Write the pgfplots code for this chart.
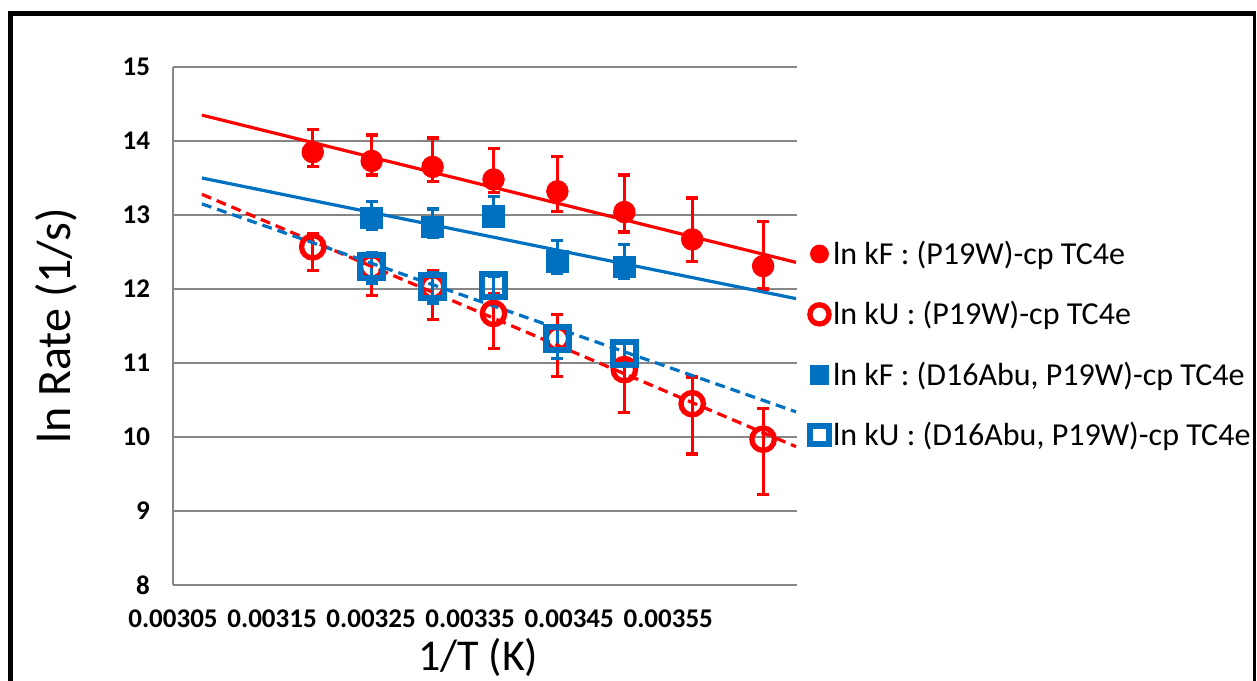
\documentclass[border=0pt]{standalone}
\usepackage{fontspec}
\setmainfont{Carlito}
\usepackage{pgfplots}
\usepackage{pgfplotstable}
\pgfplotsset{compat=1.18}
\definecolor{exred}{RGB}{255,0,0}
\definecolor{exblue}{RGB}{0,112,192}
\definecolor{gridgray}{RGB}{134,134,134}

\pgfplotstableread{
x y ep em
0.0031911 13.85 0.30 0.19
0.0032506 13.73 0.35 0.19
0.0033121 13.65 0.39 0.20
0.0033736 13.48 0.42 0.18
0.0034381 13.32 0.47 0.27
0.0035057 13.04 0.50 0.27
0.0035742 12.67 0.56 0.30
0.0036458 12.31 0.60 0.31
}\kFwt
\pgfplotstableread{
x y ep em
0.0031911 12.57 0.18 0.32
0.0032506 12.30 0.17 0.39
0.0033121 12.03 0.22 0.44
0.0033736 11.67 0.27 0.47
0.0034381 11.33 0.33 0.51
0.0035057 10.91 0.36 0.58
0.0035742 10.45 0.36 0.68
0.0036458 9.97 0.41 0.75
}\kUwt
\pgfplotstableread{
x y ep em
0.0032506 12.96 0.22 0.16
0.0033121 12.84 0.24 0.14
0.0033736 12.98 0.27 0.14
0.0034381 12.37 0.29 0.16
0.0035057 12.30 0.30 0.16
}\kFabu
\pgfplotstableread{
x y ep em
0.0032506 12.30 0.19 0.22
0.0033121 12.03 0.19 0.22
0.0033736 12.05 0.12 0.18
0.0034381 11.33 0.18 0.27
0.0035057 11.13 0.14 0.13
}\kUabu

\begin{document}
\begin{tikzpicture}
\useasboundingbox (0,0) rectangle (628.5pt,340pt);
\draw[line width=2.5pt] (5.25pt,-5pt) -- (5.25pt,333.25pt);
\draw[line width=2.5pt] (4pt,333.25pt) -- (627.75pt,333.25pt);
\draw[line width=1.5pt] (627pt,333.25pt) -- (627pt,-5pt);
\begin{axis}[
  at={(86.5pt,47.5pt)}, anchor=south west,
  scale only axis, width=312pt, height=259pt,
  xmin=0.00305, xmax=0.00368,
  ymin=8, ymax=15,
  xtick={0.00305,0.00315,0.00325,0.00335,0.00345,0.00355},
  xticklabels={0.00305,0.00315,0.00325,0.00335,0.00345,0.00355},
  ytick={8,9,10,11,12,13,14,15},
  scaled x ticks=false,
  /pgf/number format/assume math mode=true,
  ticklabel style={font=\fontsize{13.5pt}{16pt}\selectfont\bfseries},
  yticklabel style={xshift=-8pt},
  xticklabel style={yshift=-9pt},
  major tick length=0pt,
  axis x line*=bottom, axis y line*=left,
  axis line style={gridgray, line width=1pt},
  ymajorgrids, major grid style={gridgray, line width=1pt},
  xlabel={1/T (K)}, ylabel={ln Rate (1/s)},
  xlabel style={font=\fontsize{22pt}{26pt}\selectfont, at={(axis description cs:0.489,-0.139)}, anchor=center},
  ylabel style={font=\fontsize{24pt}{28pt}\selectfont, at={(axis description cs:-0.1875,0.5)}, anchor=center},
  legend style={at={(axis description cs:1.02,0.673)}, anchor=north west, draw=none, fill=none,
    font=\fontsize{16pt}{19pt}\selectfont, row sep=13pt, inner sep=0pt,
    /tikz/every even column/.append style={column sep=2pt}},
  legend cell align=left,
  clip=false,
]
\addplot[only marks, mark=*, mark size=5.4pt, color=exred,
  legend image post style={mark size=4.5pt},
  error bars/.cd, y dir=both, y explicit,
  error bar style={line width=1.6pt, exred},
  error mark options={rotate=90, mark size=3pt, line width=1.6pt, exred}]
  table[x=x, y=y, y error plus=ep, y error minus=em] {\kFwt};
\addlegendentry{ln kF : (P19W)-cp TC4e}
\addplot[only marks, mark=o, mark size=5.6pt, color=exred, mark options={line width=2.65pt},
  legend image post style={mark size=4.8pt, line width=2.4pt},
  error bars/.cd, y dir=both, y explicit,
  error bar style={line width=1.6pt, exred},
  error mark options={rotate=90, mark size=3pt, line width=1.6pt, exred}]
  table[x=x, y=y, y error plus=ep, y error minus=em] {\kUwt};
\addlegendentry{ln kU : (P19W)-cp TC4e}
\addplot[only marks, mark=square*, mark size=5.4pt, color=exblue,
  legend image post style={mark size=4.6pt},
  error bars/.cd, y dir=both, y explicit,
  error bar style={line width=1.6pt, exblue},
  error mark options={rotate=90, mark size=3pt, line width=1.6pt, exblue}]
  table[x=x, y=y, y error plus=ep, y error minus=em] {\kFabu};
\addlegendentry{ln kF : (D16Abu, P19W)-cp TC4e}
\addplot[only marks, mark=square, mark size=5.75pt, color=exblue, mark options={line width=3pt, rounded corners=1.5pt},
  legend image post style={mark size=4.6pt, line width=2.6pt},
  error bars/.cd, y dir=both, y explicit,
  error bar style={line width=1.6pt, exblue},
  error mark options={rotate=90, mark size=3pt, line width=1.6pt, exblue}]
  table[x=x, y=y, y error plus=ep, y error minus=em] {\kUabu};
\addlegendentry{ln kU : (D16Abu, P19W)-cp TC4e}
% trendlines
\addplot[forget plot, exred, line width=1.6pt, no marks] coordinates {(0.0030792,14.35) (0.003679,12.36)};
\addplot[forget plot, exblue, line width=1.6pt, no marks] coordinates {(0.0030792,13.50) (0.003679,11.87)};
\addplot[forget plot, exred, line width=1.6pt, no marks, dash pattern=on 5pt off 3pt] coordinates {(0.0030792,13.28) (0.003679,9.87)};
\addplot[forget plot, exblue, line width=1.6pt, no marks, dash pattern=on 5pt off 3pt] coordinates {(0.0030792,13.15) (0.003679,10.34)};
\end{axis}
\end{tikzpicture}
\end{document}
